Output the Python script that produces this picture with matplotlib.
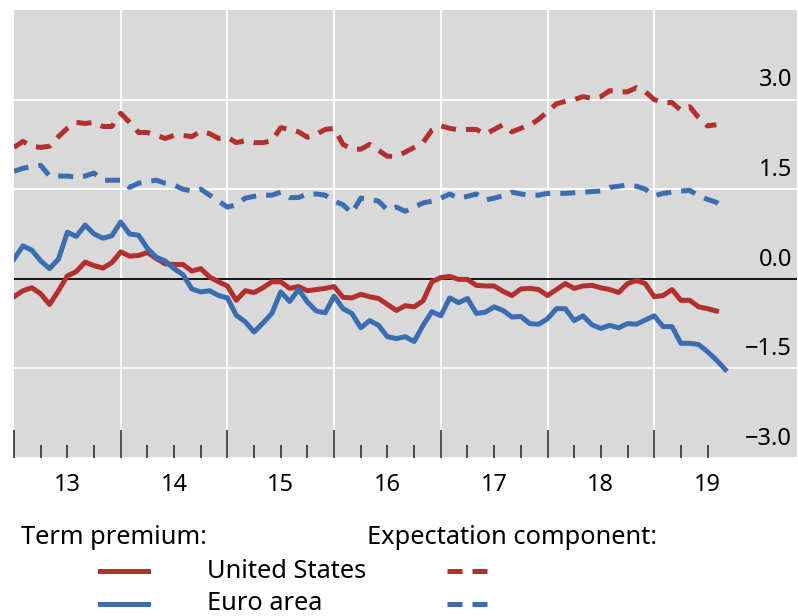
import numpy as np
import matplotlib
matplotlib.use("Agg")
import matplotlib.pyplot as plt
from matplotlib.lines import Line2D
from matplotlib.transforms import blended_transform_factory

plt.rcParams['font.family'] = ['Noto Sans', 'DejaVu Sans']

# monthly data starting Jan 2013
start_year = 2013
us_tp = [-0.3, -0.2, -0.15, -0.25, -0.43, -0.2, 0.05, 0.12, 0.28, 0.22,
         0.18, 0.27, 0.45, 0.38, 0.39, 0.44, 0.34, 0.25, 0.24, 0.24,
         0.13, 0.17, 0.03, -0.05, -0.12, -0.36, -0.2, -0.23, -0.15, -0.05,
         -0.05, -0.16, -0.13, -0.2, -0.18, -0.16, -0.13, -0.31, -0.32, -0.26,
         -0.3, -0.33, -0.43, -0.53, -0.45, -0.47, -0.37, -0.05, 0.02, 0.04,
         -0.01, -0.01, -0.11, -0.12, -0.12, -0.21, -0.28, -0.17, -0.16, -0.18,
         -0.28, -0.18, -0.08, -0.16, -0.12, -0.11, -0.15, -0.18, -0.23, -0.08,
         -0.03, -0.08, -0.3, -0.28, -0.18, -0.36, -0.36, -0.47, -0.5, -0.54]
ea_tp = [0.33, 0.55, 0.48, 0.3, 0.17, 0.33, 0.78, 0.71, 0.9, 0.75,
         0.68, 0.72, 0.95, 0.75, 0.73, 0.51, 0.36, 0.3, 0.17, 0.07,
         -0.17, -0.22, -0.2, -0.28, -0.32, -0.61, -0.72, -0.89, -0.74, -0.58,
         -0.22, -0.38, -0.18, -0.39, -0.54, -0.57, -0.29, -0.5, -0.58, -0.82,
         -0.7, -0.78, -0.97, -1.0, -0.97, -1.05, -0.78, -0.55, -0.62, -0.32,
         -0.4, -0.33, -0.58, -0.56, -0.47, -0.53, -0.64, -0.63, -0.75, -0.76,
         -0.67, -0.5, -0.5, -0.7, -0.62, -0.77, -0.83, -0.78, -0.82, -0.75,
         -0.76, -0.69, -0.62, -0.8, -0.8, -1.08, -1.08, -1.1, -1.22, -1.36, -1.52]
us_ec = [2.2, 2.3, 2.22, 2.2, 2.22, 2.38, 2.52, 2.62, 2.6, 2.62,
         2.55, 2.55, 2.77, 2.62, 2.45, 2.45, 2.4, 2.35, 2.4, 2.4,
         2.38, 2.47, 2.43, 2.35, 2.37, 2.28, 2.31, 2.28, 2.28, 2.31,
         2.53, 2.5, 2.46, 2.37, 2.42, 2.5, 2.52, 2.25, 2.17, 2.17,
         2.25, 2.15, 2.05, 2.05, 2.12, 2.2, 2.28, 2.49, 2.56, 2.52,
         2.49, 2.5, 2.5, 2.42, 2.5, 2.58, 2.46, 2.52, 2.57, 2.67,
         2.8, 2.93, 2.97, 3.0, 3.05, 3.02, 3.05, 3.15, 3.13, 3.13,
         3.2, 3.13, 3.0, 2.95, 2.95, 2.82, 2.88, 2.7, 2.56, 2.58]
ea_ec = [1.8, 1.85, 1.88, 1.9, 1.72, 1.72, 1.72, 1.7, 1.72, 1.77,
         1.65, 1.65, 1.65, 1.53, 1.6, 1.63, 1.65, 1.6, 1.57, 1.5,
         1.47, 1.5, 1.4, 1.3, 1.2, 1.24, 1.35, 1.38, 1.4, 1.4,
         1.45, 1.36, 1.36, 1.42, 1.42, 1.4, 1.3, 1.24, 1.1, 1.35,
         1.33, 1.3, 1.15, 1.2, 1.13, 1.2, 1.27, 1.3, 1.35, 1.42,
         1.35, 1.38, 1.42, 1.32, 1.35, 1.39, 1.45, 1.42, 1.4, 1.4,
         1.43, 1.43, 1.43, 1.44, 1.45, 1.46, 1.47, 1.53, 1.55, 1.57,
         1.55, 1.5, 1.39, 1.43, 1.45, 1.47, 1.48, 1.39, 1.33, 1.28, 1.17]
years = [2013, 2014, 2015, 2016, 2017, 2018, 2019]
year_labels = ['13', '14', '15', '16', '17', '18', '19']
yticks = [-3.0, -1.5, 0.0, 1.5, 3.0]
ytick_labels = ['\u22123.0', '\u22121.5', '0.0', '1.5', '3.0']

red = '#b3302f'
blue = '#3a6db1'

def months(n):
    return start_year + np.arange(n) / 12.0

fig = plt.figure(figsize=(7.98, 6.16), dpi=100)
ax = fig.add_axes([14 / 798, 1 - 458 / 616, 783 / 798, 448 / 616])
ax.set_facecolor('#d9d9d9')
for s in ax.spines.values():
    s.set_visible(False)

ax.set_xlim(2013.0, 2013.0 + 783 / 106.7)
ax.set_ylim(-3.0, 4.5)

# grid
for yv in yticks:
    ax.axhline(yv, color='white', lw=1.3, zorder=1)
for yr in years[1:]:
    ax.axvline(yr, color='white', lw=1.3, zorder=1)
ax.axhline(0, color='black', lw=1.3, zorder=2)

lw = 3.6
ax.plot(months(len(us_ec)), us_ec, color=red, lw=lw, dashes=(3, 2), zorder=3)
ax.plot(months(len(ea_ec)), ea_ec, color=blue, lw=lw, dashes=(3, 2), zorder=3)
ax.plot(months(len(us_tp)), us_tp, color=red, lw=lw, zorder=4)
ax.plot(months(len(ea_tp)), ea_tp, color=blue, lw=lw, zorder=4)

# x ticks
ax.set_xticks(years)
ax.set_xticks([y + q / 4 for y in years for q in (1, 2, 3) if y + q / 4 <= 2019.5], minor=True)
ax.tick_params(axis='x', which='major', direction='in', length=20, width=1.1,
               color='#222222', labelbottom=False)
ax.tick_params(axis='x', which='minor', direction='in', length=9.5, width=1.1,
               color='#222222')
ax.set_yticks([])
trans = blended_transform_factory(ax.transData, ax.transAxes)
for yr, lab in zip(years, year_labels):
    ax.text(yr + 0.5, -0.06, lab, transform=trans, ha='center', va='center',
            fontsize=17)

# y labels inside right
transy = blended_transform_factory(ax.transAxes, ax.transData)
for yv, lab in zip(yticks, ytick_labels):
    ax.text(0.9935, yv + 0.12, lab, transform=transy, ha='right', va='bottom',
            fontsize=17)

# legend
fs = 18.3
fig.text(21 / 798, 1 - 537 / 616, 'Term premium:', fontsize=fs, va='center', ha='left')
fig.text(367 / 798, 1 - 537 / 616, 'Expectation component:', fontsize=fs, va='center', ha='left')
rows = [(571, red, 'United States'), (604, blue, 'Euro area')]
for ypx, col, lab in rows:
    yf = 1 - ypx / 616
    fig.add_artist(Line2D([100 / 798, 148 / 798], [yf, yf], color=col, lw=lw,
                          transform=fig.transFigure))
    fig.add_artist(Line2D([447 / 798, 495 / 798], [yf, yf], color=col, lw=lw,
                          dashes=(3, 2), transform=fig.transFigure))
    fig.text(207 / 798, yf, lab, fontsize=fs, va='center', ha='left')

fig.savefig('out.png', dpi=100)
